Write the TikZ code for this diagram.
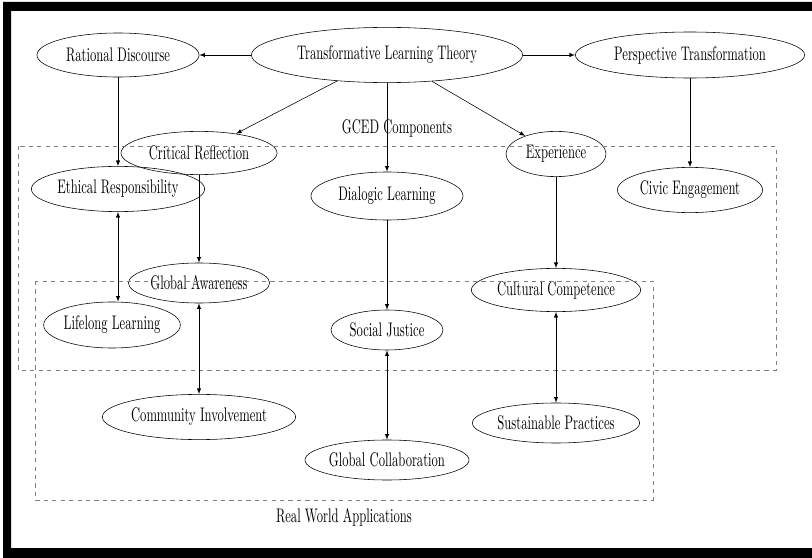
\documentclass[tikz,border=0pt]{standalone}
\usepackage{fontspec}
\setmainfont{lmroman10-regular.otf}[FakeStretch=0.64]
\usetikzlibrary{shapes.geometric}
\tikzset{
  ell/.style={draw, ellipse, inner sep=0pt, font=\fontsize{14}{16}\selectfont},
  grp/.style={draw=gray, dashed},
  grplbl/.style={font=\fontsize{14}{16}\selectfont}
}
\begin{document}
\begin{tikzpicture}[x=0.025cm, y=-0.025cm, >=latex]
\useasboundingbox (0,0) rectangle (812,558);
% frame
\fill[black, even odd rule] (3,2) rectangle (812,558) (11,11) rectangle (812,548);
% top row
\node[ell, minimum width=6.78cm, minimum height=1.38cm] (tlt) at (387,55) {Transformative Learning Theory};
\node[ell, minimum width=4.05cm, minimum height=1.1cm] (rd) at (118,55) {Rational Discourse};
\node[ell, minimum width=5.73cm, minimum height=1.15cm] (pt) at (690,55) {Perspective Transformation};
% GCED components
\node[ell, minimum width=3.9cm, minimum height=1.08cm] (cr) at (199,153) {Critical Reflection};
\node[ell, minimum width=2.5cm, minimum height=1.13cm] (ex) at (556,154) {Experience};
\node[ell, minimum width=4.33cm, minimum height=1.13cm] (er) at (118,189) {Ethical Responsibility};
\node[ell, minimum width=3.8cm, minimum height=1.2cm] (dl) at (387,196) {Dialogic Learning};
\node[ell, minimum width=3.63cm, minimum height=1.13cm] (ce) at (690,190) {Civic Engagement};
\node[ell, minimum width=3.53cm, minimum height=1.0cm] (ga) at (199,283) {Global Awareness};
\node[ell, minimum width=4.23cm, minimum height=1.08cm] (cc) at (556,290) {Cultural Competence};
\node[ell, minimum width=3.23cm, minimum height=1.15cm] (ll) at (112,325) {Lifelong Learning};
\node[ell, minimum width=2.8cm, minimum height=1.0cm] (sj) at (387,330) {Social Justice};
% real world applications
\node[ell, minimum width=4.83cm, minimum height=1.13cm] (ci) at (199,417) {Community Involvement};
\node[ell, minimum width=4.18cm, minimum height=1.0cm] (sp) at (556,423) {Sustainable Practices};
\node[ell, minimum width=4.1cm, minimum height=1.0cm] (gc) at (387,460) {Global Collaboration};
% groups
\draw[grp] (18,146) rectangle (776,370);
\node[grplbl] (gcedlbl) at (397,128) {GCED Components};
\draw[grp] (35,281) rectangle (653,500);
\node[grplbl] (rwalbl) at (344,517) {Real World Applications};
% arrows
\draw[->] (tlt) -- (rd);
\draw[->] (tlt) -- (pt);
\draw[->] (tlt) -- (cr);
\draw[->] (tlt) -- (dl);
\draw[->] (tlt) -- (ex);
\draw[->] (rd) -- (er);
\draw[->] (pt) -- (ce);
\draw[->] (cr) -- (ga);
\draw[->] (ex) -- (cc);
\draw[->] (dl) -- (sj);
\draw[<->] (er.south) -- (er.south |- ll.north);
\draw[<->] (ga) -- (ci);
\draw[<->] (sj) -- (gc);
\draw[<->] (cc) -- (sp);
\end{tikzpicture}
\end{document}
